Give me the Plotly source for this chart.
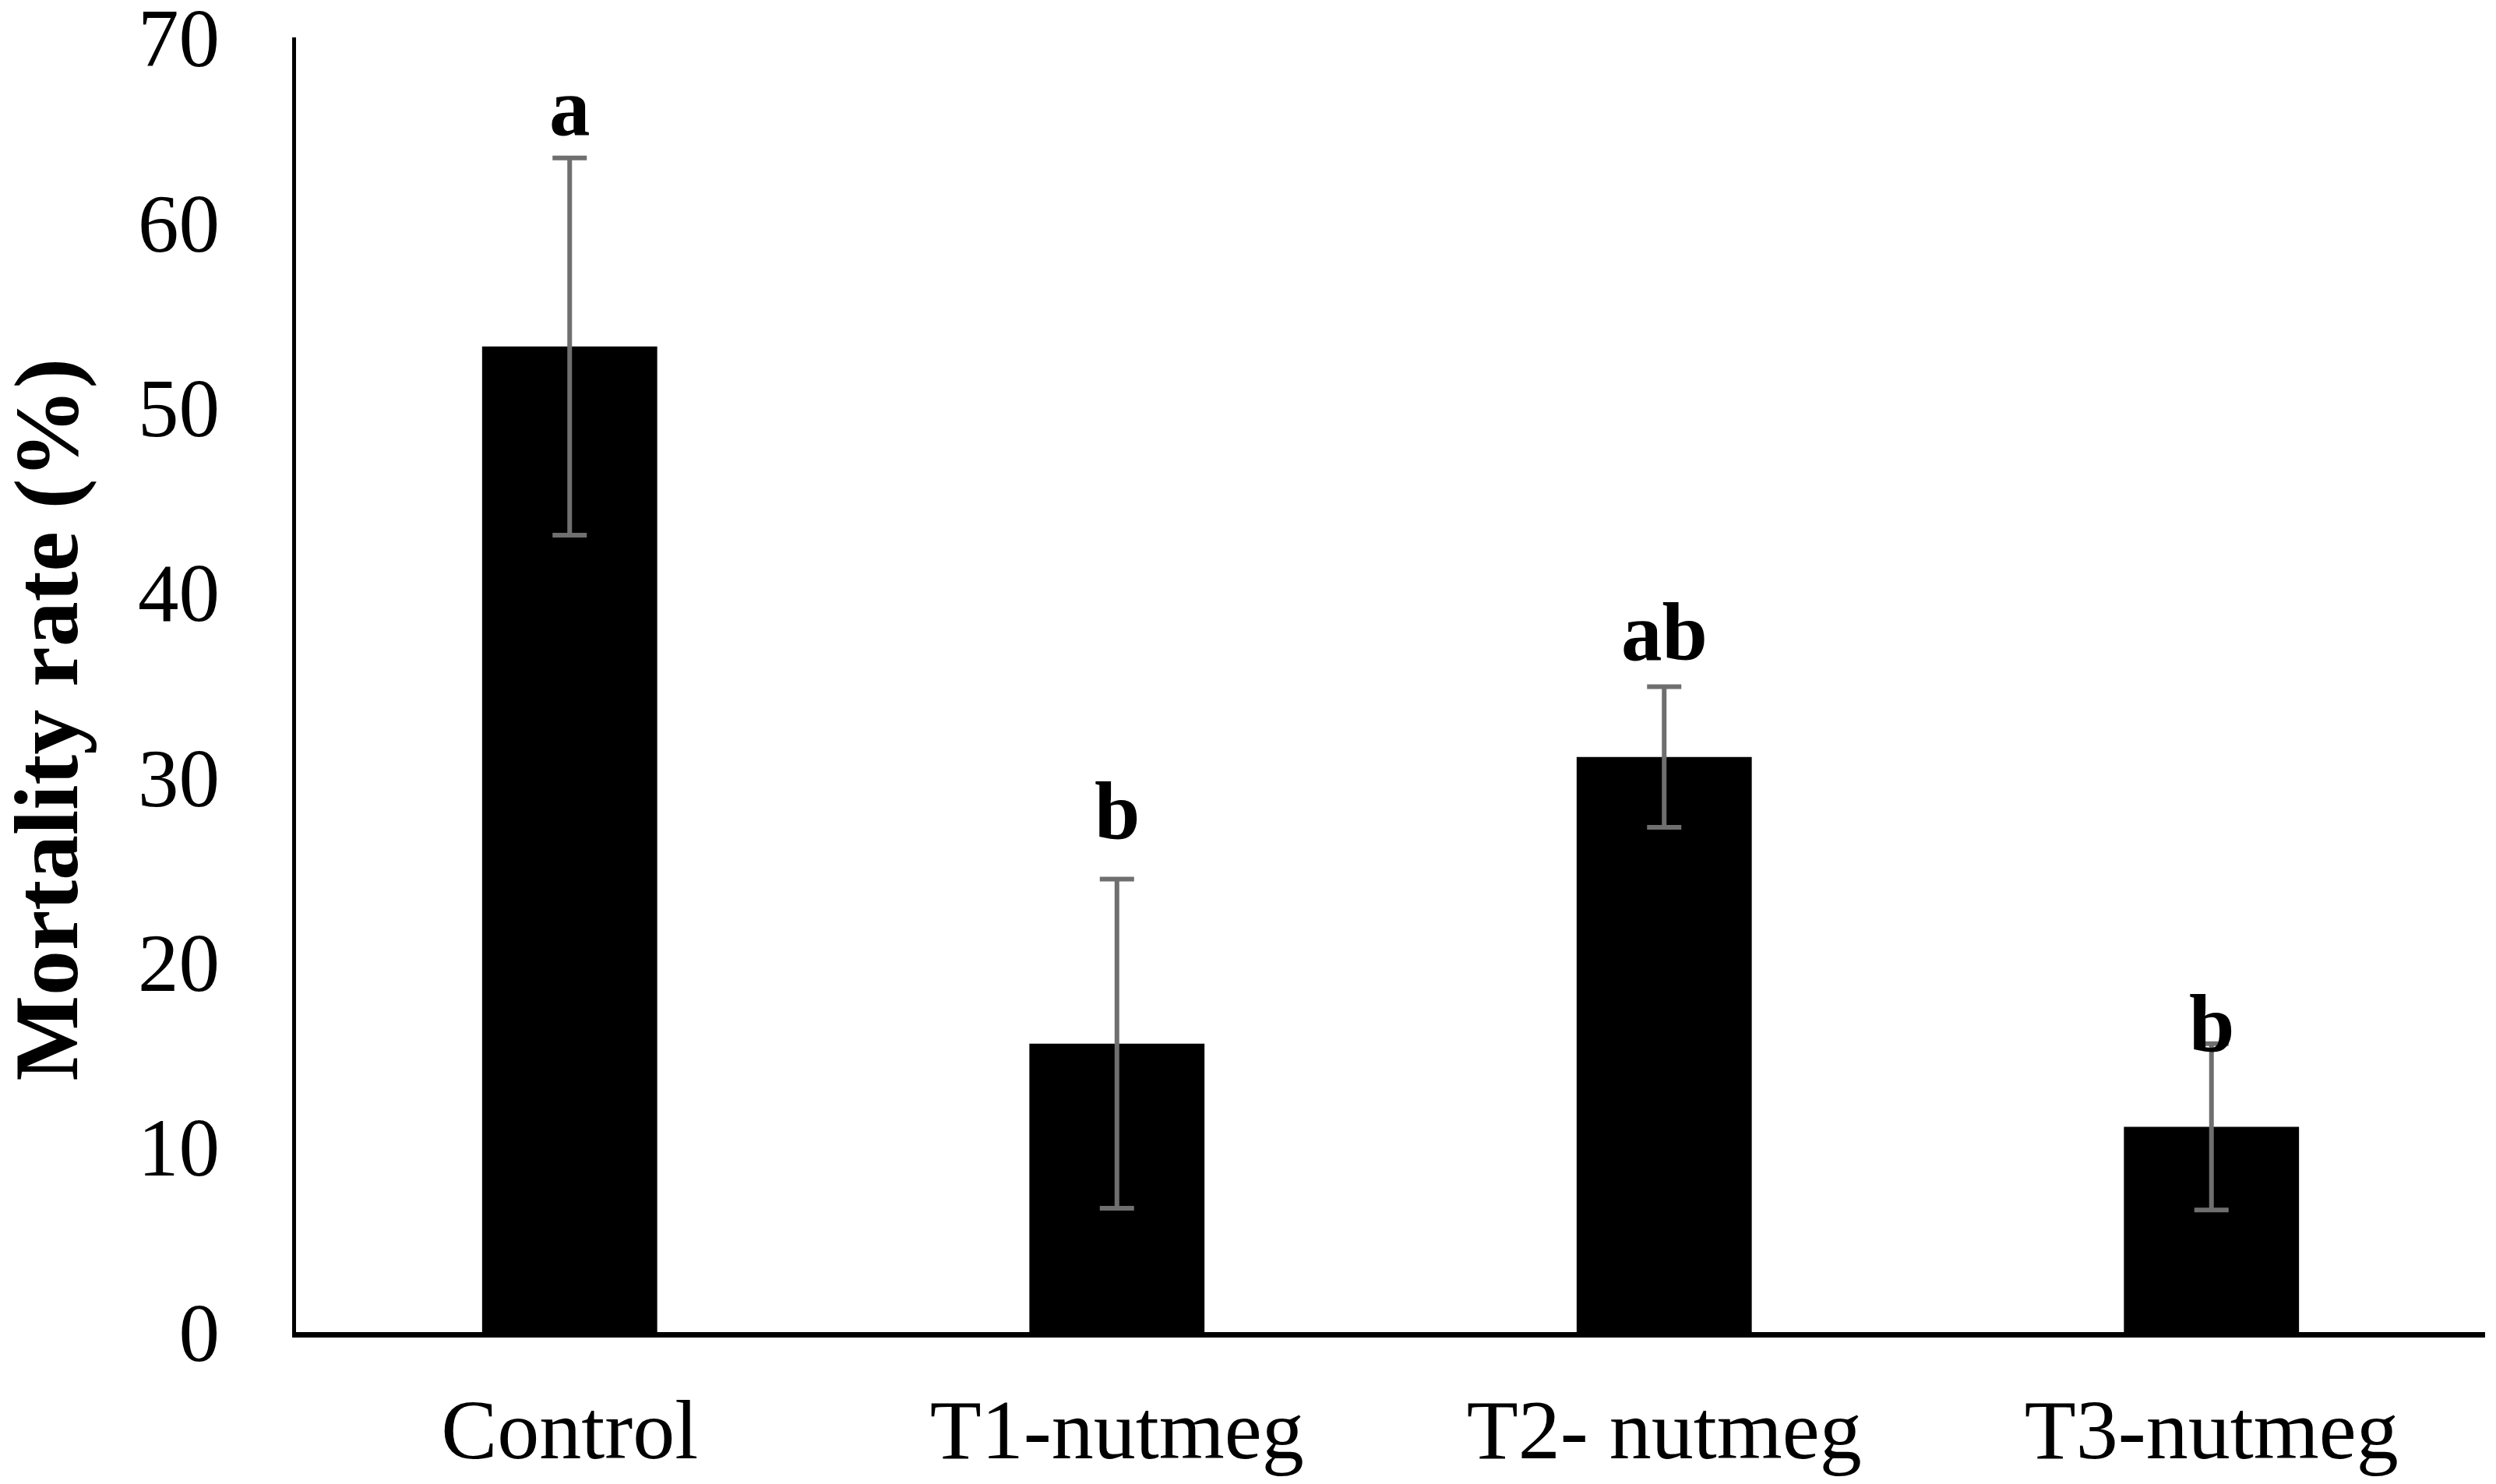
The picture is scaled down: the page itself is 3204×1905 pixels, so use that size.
import plotly.graph_objects as go

# ===== data =====
groups = ["Control", "T1-nutmeg", "T2- nutmeg", "T3-nutmeg"]
mortality = [53.3, 15.6, 31.1, 11.1]
mortality_err = [10.2, 8.9, 3.8, 4.5]
letters = ["a", "b", "ab", "b"]
letter_y = [63.7, 25.6, 35.3, 14.1]
y_ticks = [0, 10, 20, 30, 40, 50, 60, 70]

serif = "Liberation Serif, Times New Roman, serif"

fig = go.Figure()
fig.add_trace(go.Bar(
    x=groups,
    y=mortality,
    width=0.32,
    marker=dict(color="black", line=dict(width=0)),
    error_y=dict(type="data", array=mortality_err, visible=True,
                 color="#6f6f6f", thickness=6, width=22),
    showlegend=False,
))

# significance letters
for g, lab, ly in zip(groups, letters, letter_y):
    fig.add_annotation(x=g, y=ly, text="<b>%s</b>" % lab, showarrow=False,
                       xanchor="center", yanchor="bottom",
                       font=dict(family=serif, size=105, color="black"))

# y axis title (sits a bit below plot centre in the original)
fig.add_annotation(xref="paper", yref="paper", x=-0.114, y=0.473,
                   text="<b>Mortality rate (%)</b>", textangle=-90,
                   showarrow=False, xanchor="center", yanchor="middle",
                   font=dict(family=serif, size=116, color="black"))

# margins allow for the 8px default body margin of the page
fig.update_layout(
    width=3204, height=1905,
    margin=dict(l=372, r=22, t=40, b=203),
    paper_bgcolor="white", plot_bgcolor="white",
    font=dict(family=serif, color="black"),
)
fig.update_xaxes(
    showline=True, linecolor="black", linewidth=7,
    ticks="", showgrid=False, zeroline=False, automargin=False,
    tickfont=dict(family=serif, size=108, color="black"),
    ticklabelstandoff=25,
)
fig.update_yaxes(
    range=[0, 70.02], tickvals=y_ticks,
    showline=True, linecolor="black", linewidth=5,
    ticks="", showgrid=False, zeroline=False, automargin=False,
    tickfont=dict(family=serif, size=105, color="black"),
    ticklabelstandoff=72, ticklabeloverflow="allow",
)

fig.write_html("out.html")
